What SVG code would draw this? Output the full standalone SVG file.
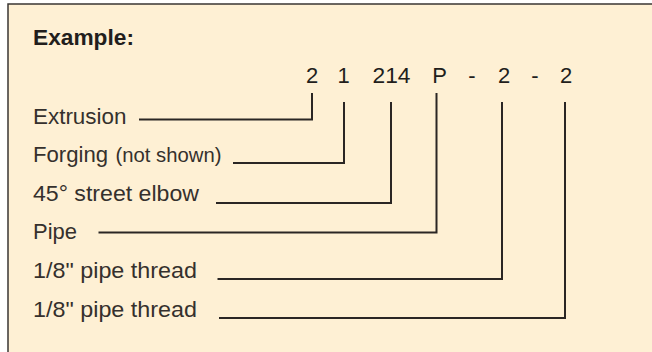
<svg xmlns="http://www.w3.org/2000/svg" width="652" height="352" viewBox="0 0 652 352">
<style>
.t{font-family:"Liberation Sans",Arial,sans-serif;font-size:22px;fill:#35302d}
.s{font-size:19.5px}
.b{font-weight:bold;font-size:22px;fill:#221e1c}
.n{text-anchor:middle;fill:#221e1c}
.c{fill:none;stroke:#2a2624;stroke-width:2;stroke-linejoin:miter;stroke-linecap:butt}
</style>
<rect x="0" y="0" width="652" height="352" fill="#ffffff"/>
<rect id="panel" x="8" y="4" width="660" height="360" fill="#fef0d4" stroke="#3a3633" stroke-width="1.5"/>
<g id="title"><text class="t b" x="33" y="45" textLength="101" lengthAdjust="spacingAndGlyphs">Example:</text></g>
<g id="code">
<text class="t n" x="312" y="83">2</text>
<text class="t n" x="343.5" y="83">1</text>
<text class="t n" x="391.5" y="83" textLength="38" lengthAdjust="spacingAndGlyphs">214</text>
<text class="t n" x="439.5" y="83">P</text>
<text class="t n" x="472" y="83">-</text>
<text class="t n" x="504" y="83">2</text>
<text class="t n" x="535" y="83">-</text>
<text class="t n" x="566" y="83">2</text>
</g>
<g id="label-extrusion"><text class="t" x="33" y="124" textLength="93.5" lengthAdjust="spacingAndGlyphs">Extrusion</text></g>
<g id="label-forging"><text class="t" x="33" y="162" textLength="75" lengthAdjust="spacingAndGlyphs">Forging</text><text class="t s" x="115.5" y="162" textLength="106" lengthAdjust="spacingAndGlyphs">(not shown)</text></g>
<g id="label-elbow"><text class="t" x="33" y="201" textLength="166" lengthAdjust="spacingAndGlyphs">45° street elbow</text></g>
<g id="label-pipe"><text class="t" x="33" y="239" textLength="44" lengthAdjust="spacingAndGlyphs">Pipe</text></g>
<g id="label-thread1"><text class="t" x="33" y="278" textLength="164" lengthAdjust="spacingAndGlyphs">1/8" pipe thread</text></g>
<g id="label-thread2"><text class="t" x="33" y="317" textLength="164" lengthAdjust="spacingAndGlyphs">1/8" pipe thread</text></g>
<g id="connectors">
<polyline class="c" points="139,119.5 312,119.5 312,93"/>
<polyline class="c" points="233,163 344,163 344,102"/>
<polyline class="c" points="216,203 391,203 391,102"/>
<polyline class="c" points="98.5,232.5 436.5,232.5 436.5,93"/>
<polyline class="c" points="217.5,279 502,279 502,102"/>
<polyline class="c" points="219,318 565,318 565,102"/>
</g>
</svg>
